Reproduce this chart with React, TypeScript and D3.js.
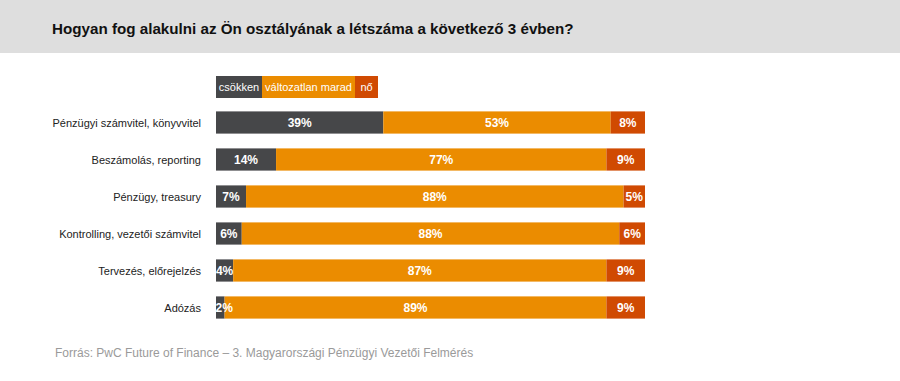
import React from "react";
import * as d3 from "d3";

const categories = [
  "Pénzügyi számvitel, könyvvitel",
  "Beszámolás, reporting",
  "Pénzügy, treasury",
  "Kontrolling, vezetői számvitel",
  "Tervezés, előrejelzés",
  "Adózás",
];
const seriesNames = ["csökken", "változatlan marad", "nő"];
const decrease = [39, 14, 7, 6, 4, 2];
const unchanged = [53, 77, 88, 88, 87, 89];
const increase = [8, 9, 5, 6, 9, 9];
const colors = ["#464749", "#eb8c00", "#d04a02"];

const W = 900;
const H = 381;

function textW(s: string, size: number) {
  return s.length * size * 0.68;
}

export default function App() {
  const x = d3.scaleLinear().domain([0, 100]).range([216, 645]);
  const y = d3.scaleBand<string>().domain(categories).range([104, 326]).paddingInner(0.4).paddingOuter(0.2);
  const series = [decrease, unchanged, increase];

  const legendWidths = [46, 93, 23];
  let lx = 216;

  const segs = categories.map((c, ci) => {
    let acc = 0;
    return series.map((s, si) => {
      const v = s[ci];
      const x0 = x(acc);
      const x1 = x(acc + v);
      acc += v;
      return { c, si, v, x0, x1 };
    });
  });

  return (
    <svg width={W} height={H} style={{ position: "absolute", left: 0, top: 0 }} fontFamily="Liberation Sans, Arial, sans-serif">
      <rect x={0} y={0} width={W} height={H} fill="#ffffff" />
      <rect x={0} y={0} width={W} height={53} fill="#dedede" />
      <text x={52} y={34} fontSize={15.2} fontWeight="bold" fill="#111">
        Hogyan fog alakulni az Ön osztályának a létszáma a következő 3 évben?
      </text>
      {seriesNames.map((n, i) => {
        const x0 = lx;
        lx += legendWidths[i];
        return (
          <g key={n}>
            <rect x={x0} y={76} width={legendWidths[i]} height={22} fill={colors[i]} />
            <text x={x0 + legendWidths[i] / 2} y={91} fontSize={11} fill="#fff" textAnchor="middle">
              {n}
            </text>
          </g>
        );
      })}
      {categories.map((c) => {
        const yy = y(c)!;
        const bh = y.bandwidth();
        return (
          <text key={c} x={201} y={yy + bh / 2 + 4} fontSize={11} fill="#222" textAnchor="end">
            {c}
          </text>
        );
      })}
      {segs.flat().map((d) => (
        <rect key={`r-${d.c}-${d.si}`} x={d.x0} y={y(d.c)!} width={d.x1 - d.x0} height={y.bandwidth()} fill={colors[d.si]} />
      ))}
      {segs.flat().map((d) => {
        const label = `${d.v}%`;
        const tw = textW(label, 12);
        const cx = Math.max((d.x0 + d.x1) / 2, d.x0 + tw / 2);
        return (
          <text key={`t-${d.c}-${d.si}`} x={cx} y={y(d.c)! + y.bandwidth() / 2 + 4.5} fontSize={12} fontWeight="bold" fill="#fff" textAnchor="middle">
            {label}
          </text>
        );
      })}
      <text x={55} y={357} fontSize={12} fill="#9a9a9a">
        Forrás: PwC Future of Finance – 3. Magyarországi Pénzügyi Vezetői Felmérés
      </text>
    </svg>
  );
}
